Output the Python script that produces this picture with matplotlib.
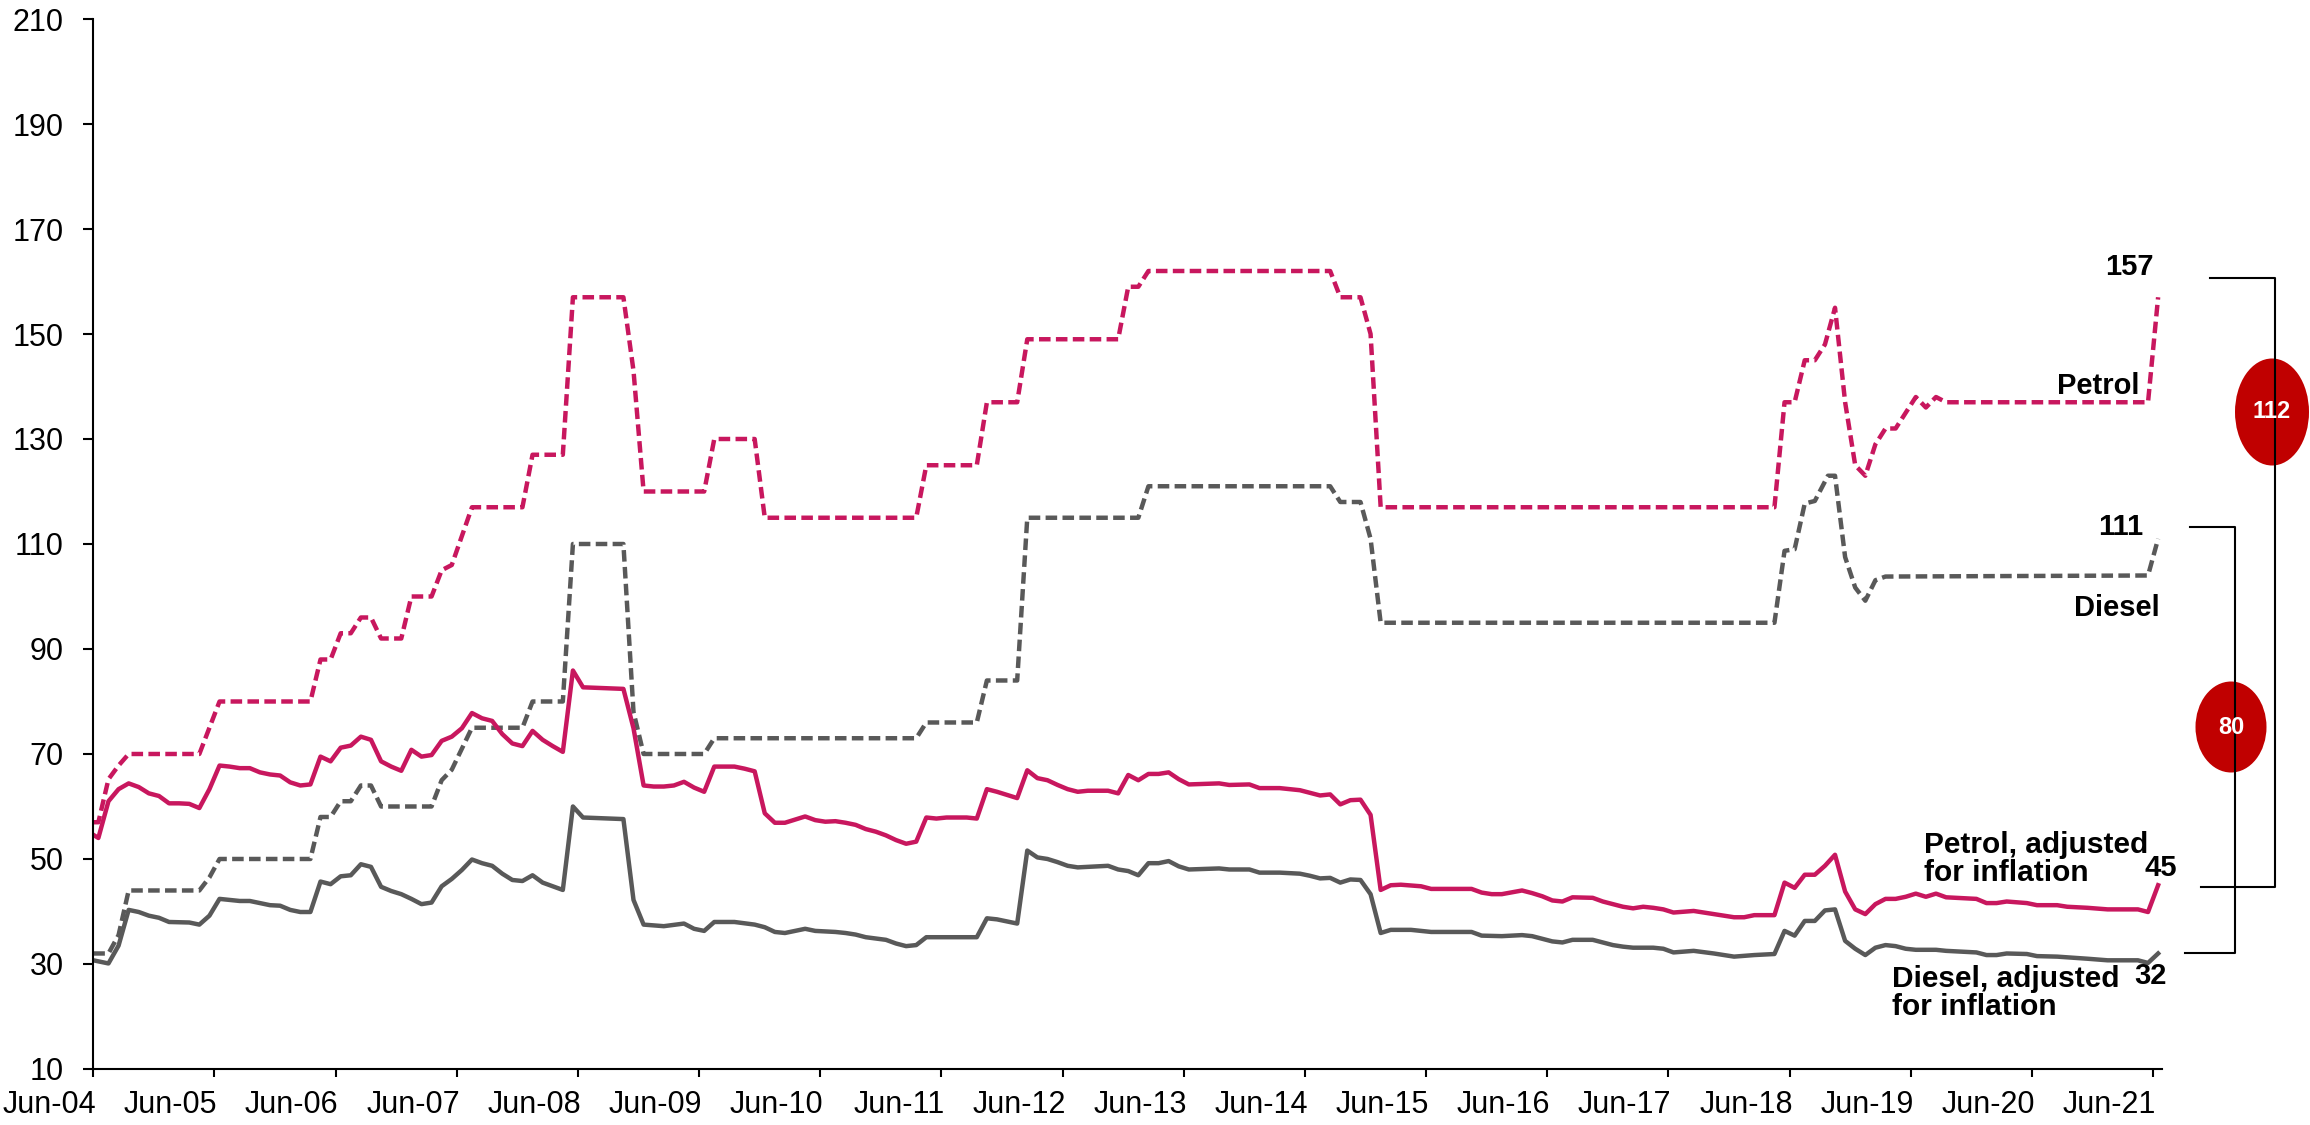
import numpy as np
import matplotlib
matplotlib.use("Agg")
import matplotlib.pyplot as plt
import matplotlib.transforms as mtransforms
from matplotlib.patches import Ellipse
from matplotlib.lines import Line2D

plt.rcParams['font.family'] = ['Liberation Sans', 'DejaVu Sans']

# x = months since Jun-04 (vertices)
petrol_x = [0, 0.5, 1.5, 2.5, 3.5, 10.5, 12.5, 21.5, 22.5, 23.5, 24.5, 25.5, 26.5, 27.5, 28.5, 30.5,
            31.5, 33.5, 34.5, 35.5, 37.5, 42.5, 43.5, 46.5, 47.5, 52.5, 53.5, 54.5, 60.5, 61.5, 65.5,
            66.5, 81.5, 82.5, 87.5, 88.5, 91.5, 92.5, 101.5, 102.5, 103.5, 104.5, 122.5, 123.5, 125.5,
            126.5, 127.5, 166.5, 167.5, 168.5, 169.5, 170.5, 171.5, 172.5, 173.5, 174.5, 175.5, 176.5,
            177.5, 178.5, 179.5, 180.5, 181.5, 182.5, 183.5, 203.5, 204.5]
petrol = [57, 57, 65.2, 67.8, 70, 70, 80, 80, 88, 88, 93, 93, 96, 96, 92, 92,
          100, 100, 105, 106, 117, 117, 127, 127, 157, 157, 143, 120, 120, 130, 130,
          115, 115, 125, 125, 137, 137, 149, 149, 159, 159, 162, 162, 157, 157,
          150, 117, 117, 137, 137, 145, 145, 148, 155, 137, 125, 123, 129,
          132, 132, 135, 138, 136, 138, 137, 137, 157]

diesel_x = [0, 1.5, 2.5, 3.5, 10.5, 11.5, 12.5, 21.5, 22.5, 23.5, 24.5, 25.5, 26.5, 27.5, 28.5, 33.5,
            34.5, 35.5, 37.5, 42.5, 43.5, 46.5, 47.5, 52.5, 53.5, 54.5, 60.5, 61.5, 81.5, 82.5, 87.5,
            88.5, 91.5, 92.5, 103.5, 104.5, 122.5, 123.5, 125.5, 126.5, 127.5, 166.5, 167.5, 168.5,
            169.5, 170.5, 171.8, 172.5, 173.5, 174.5, 175.5, 176.5, 177.5, 203.5, 204.5]
diesel = [32, 32, 35.5, 44, 44, 46.5, 50, 50, 58, 58, 61, 61, 64, 64, 60, 60,
          65, 67, 75, 75, 80, 80, 110, 110, 78, 70, 70, 73, 73, 76, 76,
          84, 84, 115, 115, 121, 121, 118, 118, 111, 95, 95, 108.7, 109,
          117.7, 118.2, 123, 123, 107.5, 101.7, 99.2, 103.1, 103.8, 104, 111]

petrol_adj_x = [0, 0.5, 1.5, 2.5, 3.5, 4.5, 5.5, 6.5, 7.5, 8.5, 9.5, 10.5, 11.5, 12.5, 13.5, 14.5, 15.5,
                16.5, 17.5, 18.5, 19.5, 20.5, 21.5, 22.5, 23.5, 24.5, 25.5, 26.5, 27.5, 28.5, 29.5, 30.5,
                31.5, 32.5, 33.5, 34.5, 35.5, 36.5, 37.5, 38.5, 39.5, 40.5, 41.5, 42.5, 43.5, 44.5, 45.5,
                46.5, 47.5, 48.5, 52.5, 53.5, 54.5, 55.5, 56.5, 57.5, 58.5, 59.5, 60.5, 61.5, 63.5, 64.5,
                65.5, 66.5, 67.5, 68.5, 69.5, 70.5, 71.5, 72.5, 73.5, 74.5, 75.5, 76.5, 77.5, 78.5, 79.5,
                80.5, 81.5, 82.5, 83.5, 84.5, 86.5, 87.5, 88.5, 89.5, 90.5, 91.5, 92.5, 93.5, 94.5, 95.5,
                96.5, 97.5, 98.5, 100.5, 101.5, 102.5, 103.5, 104.5, 105.5, 106.5, 107.5, 108.5, 111.5,
                112.5, 114.5, 115.5, 117.5, 119.5, 120.5, 121.5, 122.5, 123.5, 124.5, 125.5, 126.5, 127.5,
                128.5, 129.5, 131.5, 132.5, 136.5, 137.5, 138.5, 139.5, 141.5, 142.5, 143.5, 144.5, 145.5,
                146.5, 148.5, 149.5, 150.5, 151.5, 152.5, 153.5, 154.5, 155.5, 156.5, 158.5, 160.5, 162.5,
                163.5, 164.5, 166.5, 167.5, 168.5, 169.5, 170.5, 171.5, 172.5, 173.5, 174.5, 175.5, 176.5,
                177.5, 178.5, 179.5, 180.5, 181.5, 182.5, 183.5, 186.5, 187.5, 188.5, 189.5, 191.5, 192.5,
                194.5, 195.5, 197.5, 199.5, 202.5, 203.5, 204.5]
petrol_adj = [54.6, 54.0, 61.0, 63.3, 64.4, 63.7, 62.5, 62.0, 60.6, 60.6, 60.5, 59.7, 63.3, 67.8, 67.6, 67.3, 67.3,
              66.5, 66.1, 65.9, 64.6, 64.0, 64.2, 69.5, 68.6, 71.2, 71.6, 73.3, 72.7, 68.6, 67.6, 66.8,
              70.8, 69.5, 69.8, 72.5, 73.3, 74.9, 77.8, 76.8, 76.3, 73.8, 72.0, 71.5, 74.4, 72.7, 71.5,
              70.4, 85.9, 82.7, 82.4, 74.9, 64.0, 63.8, 63.8, 64.0, 64.7, 63.6, 62.8, 67.6, 67.6, 67.2,
              66.7, 58.7, 56.9, 56.9, 57.5, 58.1, 57.4, 57.1, 57.2, 56.9, 56.5, 55.7, 55.2, 54.5, 53.6,
              52.9, 53.3, 57.9, 57.7, 57.9, 57.9, 57.7, 63.3, 62.8, 62.2, 61.6, 66.9, 65.4, 65.0, 64.1,
              63.3, 62.8, 63.0, 63.0, 62.5, 66.0, 65.0, 66.2, 66.2, 66.5, 65.2, 64.2, 64.4,
              64.1, 64.2, 63.5, 63.5, 63.1, 62.6, 62.1, 62.3, 60.4, 61.2, 61.3, 58.4, 44.1,
              45.0, 45.1, 44.8, 44.3, 44.3, 43.6, 43.3, 43.3, 44.0, 43.5, 42.9, 42.1, 41.9,
              42.7, 42.6, 41.9, 41.4, 40.9, 40.6, 40.9, 40.7, 40.4, 39.8, 40.1, 39.5, 38.9,
              38.9, 39.3, 39.3, 45.5, 44.5, 47.0, 47.0, 48.7, 50.8, 43.8, 40.4, 39.5, 41.4,
              42.4, 42.4, 42.8, 43.4, 42.8, 43.4, 42.7, 42.4, 41.6, 41.6, 41.9, 41.6, 41.2,
              41.2, 40.9, 40.7, 40.4, 40.4, 39.9, 45]

diesel_adj_x = [0, 1.5, 2.5, 3.5, 4.5, 5.5, 6.5, 7.5, 9.5, 10.5, 11.5, 12.5, 14.5, 15.5, 17.5, 18.5, 19.5,
                20.5, 21.5, 22.5, 23.5, 24.5, 25.5, 26.5, 27.5, 28.5, 29.5, 30.5, 31.5, 32.5, 33.5, 34.5,
                35.5, 36.5, 37.5, 38.5, 39.5, 40.5, 41.5, 42.5, 43.5, 44.5, 46.5, 47.5, 48.5, 52.5, 53.5,
                54.5, 56.5, 58.5, 59.5, 60.5, 61.5, 63.5, 65.5, 66.5, 67.5, 68.5, 70.5, 71.5, 73.5, 74.5,
                75.5, 76.5, 78.5, 79.5, 80.5, 81.5, 82.5, 87.5, 88.5, 89.5, 91.5, 92.5, 93.5, 94.5, 95.5,
                96.5, 97.5, 100.5, 101.5, 102.5, 103.5, 104.5, 105.5, 106.5, 107.5, 108.5, 111.5, 112.5,
                114.5, 115.5, 117.5, 119.5, 120.5, 121.5, 122.5, 123.5, 124.5, 125.5, 126.5, 127.5, 128.5,
                130.5, 132.5, 136.5, 137.5, 139.5, 141.5, 142.5, 143.5, 144.5, 145.5, 146.5, 148.5, 149.5,
                150.5, 151.5, 152.5, 154.5, 155.5, 156.5, 158.5, 160.5, 162.5, 164.5, 166.5, 167.5, 168.5,
                169.5, 170.5, 171.5, 172.5, 173.5, 174.5, 175.5, 176.5, 177.5, 178.5, 179.5, 180.5, 182.5,
                183.5, 186.5, 187.5, 188.5, 189.5, 191.5, 192.5, 194.5, 197.5, 199.5, 202.5, 203.5, 204.5]
diesel_adj = [30.7, 30.1, 33.5, 40.3, 39.9, 39.2, 38.8, 38.0, 37.9, 37.5, 39.2, 42.4, 42.0, 42.0, 41.2, 41.1, 40.3,
              39.9, 39.9, 45.7, 45.2, 46.7, 46.9, 49.0, 48.5, 44.7, 43.9, 43.3, 42.4, 41.4, 41.7, 44.8,
              46.2, 47.9, 49.9, 49.2, 48.7, 47.2, 46.0, 45.8, 46.9, 45.5, 44.1, 60.0, 57.9, 57.6, 42.2,
              37.5, 37.2, 37.7, 36.7, 36.3, 38.0, 38.0, 37.5, 37.0, 36.1, 35.9, 36.7, 36.3, 36.1, 35.9,
              35.6, 35.1, 34.6, 33.9, 33.4, 33.6, 35.1, 35.1, 38.7, 38.5, 37.7, 51.6, 50.3, 50.0, 49.4,
              48.7, 48.4, 48.7, 48.0, 47.7, 46.9, 49.2, 49.2, 49.6, 48.6, 48.0, 48.2, 48.0,
              48.0, 47.4, 47.4, 47.2, 46.8, 46.3, 46.4, 45.5, 46.1, 46.0, 43.3, 35.9, 36.5,
              36.5, 36.1, 36.1, 35.4, 35.3, 35.5, 35.3, 34.8, 34.3, 34.1, 34.6, 34.6, 34.1,
              33.6, 33.3, 33.1, 33.1, 32.9, 32.2, 32.5, 32.0, 31.4, 31.7, 31.9, 36.3, 35.4,
              38.2, 38.2, 40.2, 40.4, 34.4, 32.9, 31.7, 33.1, 33.6, 33.4, 32.9, 32.7, 32.7,
              32.5, 32.2, 31.7, 31.7, 32.0, 31.9, 31.5, 31.4, 31.0, 30.7, 30.7, 30.2, 32]

tick_pos = list(range(0, 205, 12))
tick_labels = ["Jun-%02d" % y for y in range(4, 22)]
y_ticks = list(range(10, 211, 20))

crimson = "#C8175E"
grey = "#595959"
dark_red = "#C00000"

fig = plt.figure(figsize=(23.1, 11.25), dpi=100)
ax = fig.add_axes([0.0404, 0.0498, 0.8956, 0.9333])

dash = (2.6, 1.2)
ax.plot(petrol_x, petrol, color=crimson, lw=3.2, linestyle=(0, dash))
ax.plot(diesel_x, diesel, color=grey, lw=3.2, linestyle=(0, dash))
ax.plot(petrol_adj_x, petrol_adj, color=crimson, lw=3.2)
ax.plot(diesel_adj_x, diesel_adj, color=grey, lw=3.2)

ax.set_xlim(0, 204.9)
ax.set_ylim(10, 210)
ax.set_xticks(tick_pos)
ax.set_xticklabels(tick_labels)
ax.set_yticks(y_ticks)
ax.tick_params(axis='both', labelsize=22, direction='out', width=1.5, color='black')
ax.tick_params(axis='x', length=5.8, pad=9)
ax.tick_params(axis='y', length=7.2, pad=14)
for s in ['top', 'right']:
    ax.spines[s].set_visible(False)
for s in ['left', 'bottom']:
    ax.spines[s].set_linewidth(1.5)

# date labels sit to the left of their tick, ending just past it
shift = mtransforms.ScaledTranslation(3 / 100, 0, fig.dpi_scale_trans)
for lbl in ax.get_xticklabels():
    lbl.set_ha('right')
    lbl.set_transform(lbl.get_transform() + shift)

# labels, in figure pixel coordinates of the 2310x1125 picture
W, H = 2310.0, 1125.0


def ftext(x, y, s, ha='center', va='center', size=21, **kw):
    fig.text(x / W, 1 - y / H, s, ha=ha, va=va, fontsize=size, fontweight='bold', **kw)


ftext(2129, 267, "157")
ftext(2098, 386, "Petrol")
ftext(2121, 527, "111")
ftext(2117, 608, "Diesel")
ftext(1924, 859, "Petrol, adjusted\nfor inflation", ha='left', size=21.5, linespacing=1.0)
ftext(2161, 868, "45")
ftext(1892, 993, "Diesel, adjusted\nfor inflation", ha='left', size=21.5, linespacing=1.0)
ftext(2150, 976, "32")


def fline(xs, ys):
    fig.add_artist(Line2D([x / W for x in xs], [1 - y / H for y in ys], color='black', lw=1.5))


# brackets
fline([2210, 2275, 2275, 2201], [278, 278, 887, 887])
fline([2190, 2235, 2235, 2185], [527, 527, 953, 953])

for cx, cy, w, h, s in [(2272, 412, 74, 107, "112"), (2231, 727, 71, 91, "80")]:
    fig.add_artist(Ellipse((cx / W, 1 - cy / H), w / W, h / H, transform=fig.transFigure,
                           facecolor=dark_red, edgecolor='none'))
    fig.text(cx / W, 1 - cy / H, s, ha='center', va='center', color='white',
             fontsize=17, fontweight='bold')

fig.savefig("out.png", dpi=100)
